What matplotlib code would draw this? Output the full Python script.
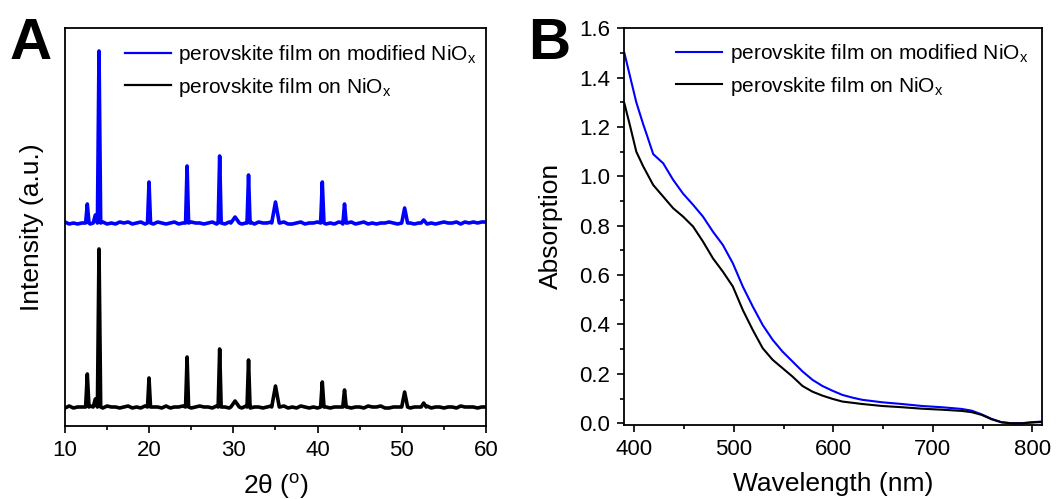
import numpy as np
import matplotlib.pyplot as plt
from matplotlib.ticker import MultipleLocator

plt.rcParams['font.family'] = ['Liberation Sans', 'DejaVu Sans']
plt.rcParams['mathtext.fontset'] = 'custom'
plt.rcParams['mathtext.rm'] = 'Liberation Sans'
plt.rcParams['mathtext.it'] = 'Liberation Sans:italic'
plt.rcParams['axes.linewidth'] = 1.3

# ---- XRD data (panel A), 2theta in degrees, intensity in arbitrary units ----
peak_pos = [12.65, 13.6, 14.04, 19.98, 24.5, 28.37, 30.2, 31.8, 35.0, 40.56, 43.2, 50.34, 52.6]
peak_hw = [0.2, 0.25, 0.2, 0.18, 0.18, 0.18, 0.5, 0.18, 0.45, 0.2, 0.2, 0.35, 0.3]
blue_heights = [19, 8, 172, 41, 57, 67, 6, 48, 21, 41, 19, 15, 3]
black_heights = [33, 8, 158, 29, 50, 58, 6, 47, 21, 25, 17, 15, 4]

# baseline readings every 0.5 deg from 10 to 60
blue_noise = [1, -1, 0, -1, 0, 1, -1, -1, 0, 1,
              -1, 0, -1, 1, 0, 1, -1, 0, 1, -1,
              0, -1, 1, 0, -1, 0, 1, -1, 0, -1,
              1, 0, 0, -1, 0, 1, -1, 0, -1, 1,
              0, 1, -1, 0, 1, -1, 1, 0, 0, 1,
              -1, 0, 1, -1, -1, 0, 1, -1, 0, 0,
              1, 0, -1, 0, -1, 1, -1, 0, 1, -1,
              0, 1, -1, 0, -1, 0, 0, 1, 0, -1,
              1, 0, 0, -1, 0, 1, -1, 0, -1, 0,
              1, 0, 0, 1, -1, 1, 0, 1, 0, 1, 1]
black_noise = [-1, 1, -1, 0, 0, -1, 1, 0, 0, -1,
               1, 0, 0, -1, 0, 1, -1, 0, -1, 1,
               -1, 0, 0, -1, 1, -1, 0, 0, 1, 0,
               -1, 0, 1, 0, 0, -1, 1, -1, 0, -1,
               1, 0, -1, 1, -1, 0, 0, -1, 0, 1,
               0, 0, 1, -1, 0, -1, 1, 0, -1, 0,
               -1, 1, 0, -1, 0, 0, 1, 0, -1, 0,
               0, -1, 1, 0, 0, 1, -1, -1, 0, 0,
               -1, 1, -1, 0, 0, -1, 1, -1, 0, 0,
               -1, 0, 0, -1, 1, 0, 0, 0, -1, 0, 0]
blue_offset = 184

# ---- UV-vis absorption data (panel B) ----
wl_blue = [390, 396, 402, 409, 412, 419, 429, 439, 449, 459, 469, 479, 489, 499, 509, 519,
           529, 539, 549, 559, 569, 579, 589, 599, 609, 619, 629, 649, 669, 689, 709, 729,
           739, 749, 759, 769, 779, 789, 799, 809]
abs_blue = [1.50, 1.40, 1.30, 1.21, 1.175, 1.09, 1.053, 0.986, 0.93, 0.885, 0.837, 0.776,
            0.722, 0.648, 0.554, 0.473, 0.398, 0.338, 0.29, 0.25, 0.21, 0.176, 0.151, 0.132,
            0.115, 0.104, 0.095, 0.085, 0.078, 0.07, 0.065, 0.058, 0.051, 0.036, 0.018,
            0.004, 0.0, 0.0, 0.004, 0.007]
wl_black = [390, 396, 402, 409, 419, 429, 439, 449, 459, 469, 479, 489, 499, 509, 519, 529,
            539, 549, 559, 569, 579, 589, 599, 609, 629, 649, 669, 689, 709, 729, 739, 749,
            759, 769, 779, 789, 799, 809]
abs_black = [1.296, 1.20, 1.10, 1.04, 0.965, 0.918, 0.871, 0.837, 0.797, 0.736, 0.668,
             0.614, 0.554, 0.459, 0.378, 0.304, 0.257, 0.223, 0.189, 0.151, 0.128, 0.112,
             0.099, 0.088, 0.078, 0.07, 0.065, 0.059, 0.055, 0.05, 0.045, 0.034, 0.016,
             0.004, 0.0, 0.0, 0.003, 0.005]

label_mod = 'perovskite film on modified NiO$_{\\rm x}$'
label_ref = 'perovskite film on NiO$_{\\rm x}$'


def build_pattern(noise, heights):
    grid = np.arange(10, 60.01, 0.5)
    xs, ys = [], []
    for g, n in zip(grid, noise):
        if not any(abs(g - p) <= w for p, w in zip(peak_pos, peak_hw)):
            xs.append(g)
            ys.append(n)
    for p, h, w in zip(peak_pos, heights, peak_hw):
        xs += [p - w, p, p + w]
        ys += [0, h, 0]
    order = np.argsort(xs)
    return np.array(xs)[order], np.array(ys)[order]


fig = plt.figure(figsize=(10.62, 4.99), dpi=100)
axA = fig.add_axes([0.0612, 0.1463, 0.3964, 0.7976])
axB = fig.add_axes([0.5879, 0.1483, 0.3936, 0.7962])

x_b, y_b = build_pattern(blue_noise, blue_heights)
x_k, y_k = build_pattern(black_noise, black_heights)
axA.plot(x_b, y_b + blue_offset, color='#0000ff', lw=2.6, label=label_mod)
axA.plot(x_k, y_k, color='black', lw=2.6, label=label_ref)
axA.set_xlim(10, 60)
axA.set_ylim(-19, 379)
axA.set_yticks([])
axA.xaxis.set_major_locator(MultipleLocator(10))
axA.xaxis.set_minor_locator(MultipleLocator(5))
axA.tick_params(axis='x', which='both', direction='out', top=False, labelsize=16, pad=5)
axA.tick_params(axis='x', which='major', length=5, width=1.2)
axA.tick_params(axis='x', which='minor', length=3, width=1.2)
axA.set_xlabel('2θ ($^{\\rm o}$)', fontsize=19, labelpad=8)
axA.set_ylabel('Intensity (a.u.)', fontsize=19, labelpad=15)
legA = axA.legend(loc='upper right', frameon=False, fontsize=15, handlelength=2.2,
                  handletextpad=0.35, labelspacing=0.45, borderaxespad=0.05,
                  bbox_to_anchor=(1.0, 0.985))
for h in legA.get_lines():
    h.set_linewidth(1.6)

axB.plot(wl_blue, abs_blue, color='#0000ff', lw=1.5, label=label_mod)
axB.plot(wl_black, abs_black, color='black', lw=1.5, label=label_ref)
axB.set_xlim(390, 810)
axB.set_ylim(-0.007, 1.602)
axB.xaxis.set_major_locator(MultipleLocator(100))
axB.xaxis.set_minor_locator(MultipleLocator(50))
axB.yaxis.set_major_locator(MultipleLocator(0.2))
axB.yaxis.set_minor_locator(MultipleLocator(0.1))
axB.yaxis.set_major_formatter(plt.FormatStrFormatter('%.1f'))
axB.tick_params(which='both', direction='out', top=False, right=False, labelsize=16, pad=5)
axB.tick_params(which='major', length=5, width=1.2)
axB.tick_params(which='minor', length=3, width=1.2)
axB.set_xlabel('Wavelength (nm)', fontsize=19, labelpad=9)
axB.set_ylabel('Absorption', fontsize=19, labelpad=12)
axB.legend(loc='upper right', frameon=False, fontsize=15, handlelength=2.2,
           handletextpad=0.35, labelspacing=0.45, borderaxespad=0.3)

fig.text(0.009, 0.965, 'A', fontsize=42, fontweight='bold', va='top', ha='left')
fig.text(0.497, 0.965, 'B', fontsize=42, fontweight='bold', va='top', ha='left')

fig.savefig('out.png', dpi=100)
